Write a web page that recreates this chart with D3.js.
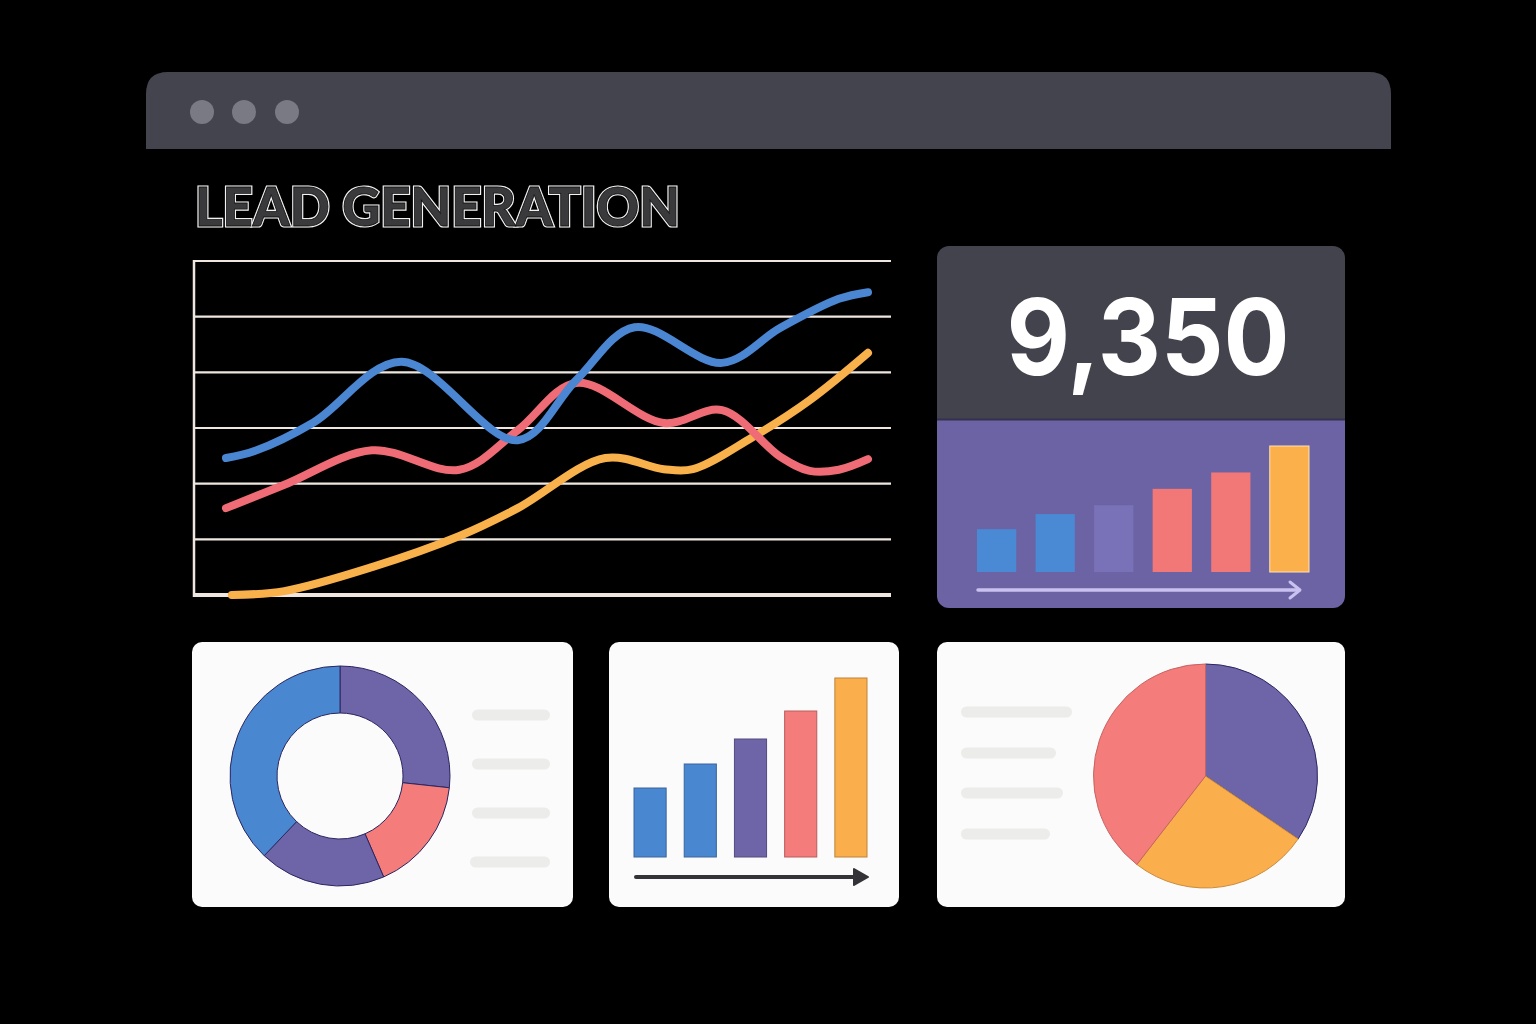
<!DOCTYPE html>
<html><head><meta charset="utf-8">
<script src="https://cdn.jsdelivr.net/npm/d3@7/dist/d3.min.js"></script>
<style>html,body{margin:0;padding:0;background:#000;overflow:hidden}</style>
</head><body>
<script>
// ---- data ----
const title = "LEAD GENERATION";
const kpiValue = "9,350";
const gridTicks = [0, 10, 20, 30, 40, 50, 60];
const blueWeeks = [0, 1, 3, 6, 10, 12, 14, 17, 19, 21, 22];
const blueLeads = [24.6, 25.9, 31.0, 41.9, 27.8, 38.6, 48.1, 41.7, 48.0, 53.2, 54.4];
const redWeeks = [0, 2, 5, 8, 10, 12, 15, 17, 19, 20, 21, 22];
const redLeads = [15.6, 19.8, 26.0, 22.5, 29.6, 38.1, 30.9, 33.2, 24.8, 22.3, 22.5, 24.4];
const yellowWeeks = [0.2, 2, 5, 8, 10, 13, 15, 16, 18, 20, 22];
const yellowLeads = [0, 0.7, 5.0, 10.6, 15.6, 24.6, 22.6, 22.6, 28.2, 35.0, 43.5];
const kpiBarLabels = ["M1", "M2", "M3", "M4", "M5", "M6"];
const kpiBarValues = [34, 46, 53, 66, 79, 100];
const kpiBarColors = ["#4a89d3", "#4a89d3", "#7a72b8", "#f27878", "#f27878", "#fbb04c"];
const donutLabels = ["A", "B", "C", "D"];
const donutValues = [26.7, 16.8, 18.6, 37.9];
const donutColors = ["#6e64a8", "#f47c7b", "#6e64a8", "#4a87d1"];
const barLabels = ["Q1", "Q2", "Q3", "Q4", "Q5"];
const barValues = [69, 93, 118, 146, 179];
const barColors = ["#4a87d1", "#4a87d1", "#6e64a8", "#f47c7b", "#fbae4c"];
const pieLabels = ["Purple", "Yellow", "Red"];
const pieValues = [34.5, 26, 39.5];
const pieColors = ["#6e64a8", "#fbae4c", "#f47c7b"];

const W = 1536, H = 1024;
const svg = d3.select("body").append("svg").attr("width", W).attr("height", H);
svg.append("rect").attr("width", W).attr("height", H).attr("fill", "#000");

// browser top bar
svg.append("path")
  .attr("d", `M146,149 V94 Q146,72 168,72 H1369 Q1391,72 1391,94 V149 Z`)
  .attr("fill", "#44444f");
[202, 244, 287].forEach(cx => svg.append("circle").attr("cx", cx).attr("cy", 112).attr("r", 12).attr("fill", "#7a7a85"));

// title
svg.append("text").text(title)
  .attr("x", 195).attr("y", 226)
  .attr("font-family", "Lato, 'Liberation Sans', sans-serif").attr("font-weight", 900)
  .attr("font-size", 54)
  .attr("textLength", 485).attr("lengthAdjust", "spacingAndGlyphs")
  .attr("fill", "#3a3a3c").attr("stroke", "#f2f2f2").attr("stroke-width", 3.2)
  .attr("paint-order", "stroke");
svg.append("text").text(title)
  .attr("x", 195).attr("y", 226)
  .attr("font-family", "Lato, 'Liberation Sans', sans-serif").attr("font-weight", 900)
  .attr("font-size", 54)
  .attr("textLength", 485).attr("lengthAdjust", "spacingAndGlyphs")
  .attr("fill", "none").attr("stroke", "#111").attr("stroke-width", 0.8);

// ---- line chart ----
const x = d3.scaleLinear().domain([0, 22]).range([226, 868]);
const y = d3.scaleLinear().domain([0, 60]).range([595, 261]);
const gLine = svg.append("g");
gLine.selectAll("line.grid").data(gridTicks).join("line")
  .attr("x1", 194).attr("x2", 891)
  .attr("y1", d => y(d)).attr("y2", d => y(d))
  .attr("stroke", "#efe7df").attr("stroke-width", d => d === 0 ? 4 : 2.2);
gLine.append("line").attr("x1", 194).attr("x2", 194).attr("y1", y(60) - 1).attr("y2", y(0) + 2)
  .attr("stroke", "#efe7df").attr("stroke-width", 2.5);

const lineGen = d3.line().x(d => x(d[0])).y(d => y(d[1])).curve(d3.curveCatmullRom.alpha(0.5));
const series = [
  { w: yellowWeeks, v: yellowLeads, c: "#f9b14b" },
  { w: redWeeks, v: redLeads, c: "#ef6b76" },
  { w: blueWeeks, v: blueLeads, c: "#4a86d2" }
];
series.forEach(s => {
  gLine.append("path").attr("d", lineGen(d3.zip(s.w, s.v)))
    .attr("fill", "none").attr("stroke", s.c).attr("stroke-width", 8)
    .attr("stroke-linecap", "round").attr("stroke-linejoin", "round");
});

// ---- KPI card ----
const kpi = svg.append("g");
kpi.append("clipPath").attr("id", "kpiClip").append("rect")
  .attr("x", 937).attr("y", 246).attr("width", 408).attr("height", 362).attr("rx", 12);
const kg = kpi.append("g").attr("clip-path", "url(#kpiClip)");
kg.append("rect").attr("x", 937).attr("y", 246).attr("width", 408).attr("height", 174).attr("fill", "#43434d");
kg.append("rect").attr("x", 937).attr("y", 420).attr("width", 408).attr("height", 188).attr("fill", "#6c63a4");
kg.append("line").attr("x1", 937).attr("x2", 1345).attr("y1", 419.5).attr("y2", 419.5).attr("stroke", "#34304f").attr("stroke-width", 2);
kpi.append("text").text(kpiValue)
  .attr("x", 1148).attr("y", 375).attr("text-anchor", "middle")
  .attr("font-family", "Inter, 'Open Sans', sans-serif").attr("font-weight", 700)
  .attr("font-size", 106).attr("fill", "#ffffff")
  .attr("textLength", 283).attr("lengthAdjust", "spacingAndGlyphs");

const kx = d3.scaleBand().domain(kpiBarLabels).range([977, 1309]).paddingInner(0.33).paddingOuter(0);
const ky = d3.scaleLinear().domain([0, 100]).range([572, 446]);
kpi.selectAll("rect.kb").data(kpiBarValues).join("rect")
  .attr("x", (d, i) => kx(kpiBarLabels[i])).attr("width", kx.bandwidth())
  .attr("y", d => ky(d)).attr("height", d => ky(0) - ky(d))
  .attr("fill", (d, i) => kpiBarColors[i])
  .attr("stroke", (d, i) => i === 5 ? "#ffe2b0" : "none").attr("stroke-width", 1);
kpi.append("line").attr("x1", 978).attr("x2", 1299).attr("y1", 590).attr("y2", 590)
  .attr("stroke", "#c9c1ef").attr("stroke-width", 3.5).attr("stroke-linecap", "round");
kpi.append("path").attr("d", "M1290,582 L1300,590 L1290,598")
  .attr("fill", "none").attr("stroke", "#c9c1ef").attr("stroke-width", 3).attr("stroke-linecap", "round").attr("stroke-linejoin", "round");

// ---- bottom cards ----
const cards = [[192, 642, 381, 265], [609, 642, 290, 265], [937, 642, 408, 265]];
svg.selectAll("rect.card").data(cards).join("rect")
  .attr("x", d => d[0]).attr("y", d => d[1]).attr("width", d => d[2]).attr("height", d => d[3])
  .attr("rx", 10).attr("fill", "#fbfbfb");

// donut
const pieGen = d3.pie().sort(null).value(d => d);
const donutArc = d3.arc().innerRadius(63).outerRadius(110);
svg.append("g").attr("transform", "translate(340,776)")
  .selectAll("path").data(pieGen(donutValues)).join("path")
  .attr("d", donutArc).attr("fill", (d, i) => donutColors[i])
  .attr("stroke", "#2b2660").attr("stroke-width", 1);
const leg1 = [[472, 715, 78], [472, 764, 78], [472, 813, 78], [470, 862, 80]];
svg.selectAll("rect.l1").data(leg1).join("rect")
  .attr("x", d => d[0]).attr("y", d => d[1] - 5.5).attr("width", d => d[2]).attr("height", 11)
  .attr("rx", 5.5).attr("fill", "#ececea");

// bar card
const bx = d3.scaleBand().domain(barLabels).range([634, 867]).paddingInner(0.36).paddingOuter(0);
const by = d3.scaleLinear().domain([0, 180]).range([857, 677]);
svg.append("g").selectAll("rect").data(barValues).join("rect")
  .attr("x", (d, i) => bx(barLabels[i])).attr("width", bx.bandwidth())
  .attr("y", d => by(d)).attr("height", d => by(0) - by(d))
  .attr("fill", (d, i) => barColors[i])
  .attr("stroke", (d, i) => d3.color(barColors[i]).darker(0.8)).attr("stroke-width", 1);
svg.append("line").attr("x1", 636).attr("x2", 858).attr("y1", 877).attr("y2", 877)
  .attr("stroke", "#333338").attr("stroke-width", 4).attr("stroke-linecap", "round");
svg.append("path").attr("d", "M854,869 L868,877 L854,885 Z").attr("fill", "#333338")
  .attr("stroke", "#333338").attr("stroke-width", 2).attr("stroke-linejoin", "round");

// pie card
const pieArc = d3.arc().innerRadius(0).outerRadius(112);
svg.append("g").attr("transform", "translate(1205.5,776)")
  .selectAll("path").data(pieGen(pieValues)).join("path")
  .attr("d", pieArc).attr("fill", (d, i) => pieColors[i])
  .attr("stroke", (d, i) => i === 0 ? "#2b2660" : d3.color(pieColors[i]).darker(0.6)).attr("stroke-width", 1);
const leg3 = [[961, 712, 111], [961, 753, 95], [961, 793, 102], [961, 834, 89]];
svg.selectAll("rect.l3").data(leg3).join("rect")
  .attr("x", d => d[0]).attr("y", d => d[1] - 5.5).attr("width", d => d[2]).attr("height", 11)
  .attr("rx", 5.5).attr("fill", "#ececea");
</script>
</body></html>
